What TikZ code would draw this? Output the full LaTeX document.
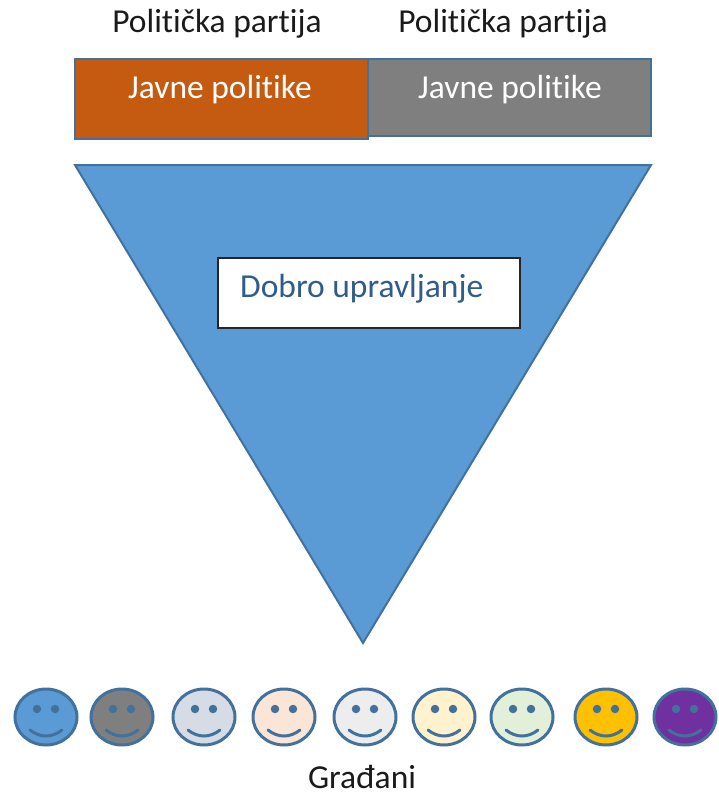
\documentclass[tikz,border=0pt]{standalone}
\usepackage{fontspec}
\setmainfont[Ligatures=NoCommon]{Carlito}
\definecolor{tri}{HTML}{5B9BD5}
\definecolor{edge}{HTML}{41719C}
\definecolor{orng}{HTML}{C55A11}
\definecolor{gry}{HTML}{7F7F7F}
\definecolor{txtblue}{HTML}{2F5C8A}
\definecolor{txtblack}{HTML}{1A1A1A}
\tikzset{
  lbl/.style={font=\fontsize{33.5}{40}\selectfont, text=txtblack, inner sep=0pt},
  polbox/.style={draw=edge, line width=2.5pt, inner sep=0pt},
  face/.style={draw=edge, line width=3pt, ellipse, minimum width=62pt, minimum height=56pt, inner sep=0pt},
  eye/.style={fill=edge, draw=none, circle, minimum size=8.5pt, inner sep=0pt},
  mouth/.style={draw=edge, line width=3pt, line cap=round}
}
\usetikzlibrary{shapes.geometric}
\begin{document}
\begin{tikzpicture}[x=1pt,y=-1pt]
\useasboundingbox (0,0) rectangle (719,798);
\node[lbl] (p1) at (217,24) {Politička partija};
\node[lbl] (p2) at (503,24) {Politička partija};
\node[polbox, fill=orng, minimum width=293pt, minimum height=80pt] (j1) at (221.5,99) {};
\node[polbox, fill=gry, minimum width=283pt, minimum height=77pt] (j2) at (509.5,97.5) {};
\node[text=white, font=\fontsize{33.5}{40}\selectfont, inner sep=0pt] (t1) at (220,90) {Javne politike};
\node[text=white, font=\fontsize{33.5}{40}\selectfont, inner sep=0pt] (t2) at (510,90) {Javne politike};
\draw[fill=tri, draw=edge, line width=2pt, line join=miter] (75,165) -- (651,165) -- (363,643) -- cycle;
\node[draw=black!85, line width=1.5pt, fill=white, minimum width=302pt, minimum height=70pt, inner sep=0pt] (db) at (369,293) {};
\node[font=\fontsize{33.5}{40}\selectfont, text=txtblue, inner sep=0pt, anchor=west] (dbt) at (240,289) {Dobro upravljanje};
\foreach \x/\c [count=\i] in {46/5B9BD5, 122/7F7F7F, 204/D6DCE5, 284/FBE5D6, 365/EDEDED, 444/FFF2CC, 522/E2F0D9, 606/FFC000, 685/7030A0} {
  \definecolor{fc}{HTML}{\c}
  \node[face, fill=fc] (f\i) at (\x,717) {};
  \node[eye] (el\i) at ([xshift=-9pt,yshift=8pt]f\i.center) {};
  \node[eye] (er\i) at ([xshift=9pt,yshift=8pt]f\i.center) {};
  \draw[mouth] ([xshift=-16pt,yshift=-13pt]f\i.center) .. controls ([xshift=-6pt,yshift=-21pt]f\i.center) and ([xshift=6pt,yshift=-21pt]f\i.center) .. ([xshift=16pt,yshift=-13pt]f\i.center);
}
\node[lbl] (g) at (362,777) {Građani};
\end{tikzpicture}
\end{document}
